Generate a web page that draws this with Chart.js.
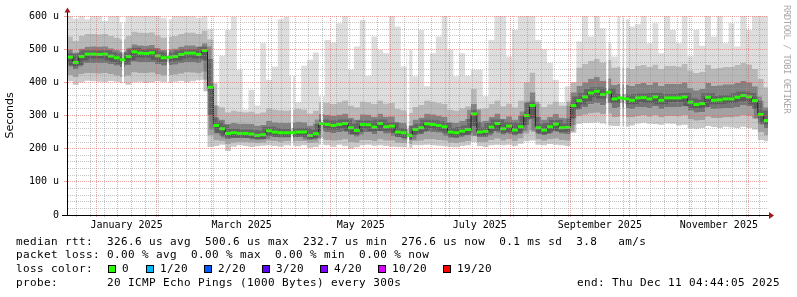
<!DOCTYPE html>
<html><head><meta charset="utf-8">
<script src="https://cdn.jsdelivr.net/npm/chart.js@4/dist/chart.umd.min.js"></script>
<style>
html,body{margin:0;padding:0;background:#fff;}
#wrap{position:relative;width:797px;height:297px;overflow:hidden;background:#fff;}
#c{position:absolute;left:0;top:0;}
.t{position:absolute;white-space:pre;font-family:'DejaVu Sans Mono',monospace;font-size:11px;letter-spacing:0.38px;color:#000;line-height:14px;}
.box{position:absolute;width:6px;height:6px;border:1px solid #000;top:265px;}
#wm{position:absolute;left:782px;top:5px;writing-mode:vertical-rl;font-family:'DejaVu Sans Mono',monospace;font-size:9px;letter-spacing:-0.5px;color:#aaa;white-space:pre;line-height:9px;}
</style></head><body>
<div id="wrap">
<canvas id="c" width="797" height="297"></canvas>
<div id="wm">RRDTOOL / TOBI OETIKER</div>
<div class="t" style="left:16px;top:235px">median rtt:  326.6 us avg  500.6 us max  232.7 us min  276.6 us now  0.1 ms sd  3.8   am/s</div>
<div class="t" style="left:16px;top:248px">packet loss: 0.00 % avg  0.00 % max  0.00 % min  0.00 % now</div>
<div class="t" id="lossline" style="left:16px;top:262px">loss color:</div>
<div class="t" style="left:16px;top:276px">probe:       20 ICMP Echo Pings (1000 Bytes) every 300s</div>
<div class="t" style="left:577px;top:276px">end: Thu Dec 11 04:44:05 2025</div>
</div>
<script>
// ---- time layout (days relative to 1 Jan 2025) ----
const START_DAY = -15;      // ~17 Dec 2024
const END_DAY = 344.2;      // 11 Dec 2025 04:44
const STEP_DAYS = 3;        // one consolidated column = 3 days
const GAP_W = 0.9;          // width of a missing-data gap (days)

// ---- series values (microseconds), one value per 3-day column ----
const medianRtt = [476,460,478,485,485,484,485,479,474,468,
 478,492,488,487,489,480,474,476,478,484,
 488,488,484,496,385,270,260,246,248,246,
 246,244,240,242,254,250,248,248,248,250,
 250,240,245,276,273,270,273,276,263,255,
 273,272,265,276,266,268,250,248,240,258,
 263,275,273,270,266,250,248,253,258,305,
 250,252,265,276,260,268,256,266,300,330,
 263,256,266,274,263,264,330,345,356,368,
 373,363,370,350,353,350,346,353,354,350,
 356,346,353,353,353,356,340,333,336,355,
 346,347,350,350,355,360,356,345,303,285,
 278];
const minRtt = [403,393,400,405,403,402,400,404,402,398,
 393,400,402,398,400,403,401,398,402,404,
 400,403,406,408,205,208,212,193,206,210,
 208,205,207,209,210,208,206,210,209,207,
 210,203,205,212,210,206,212,208,200,204,
 210,212,209,210,208,206,205,204,203,210,
 210,212,210,209,207,205,204,208,210,220,
 208,205,210,212,210,212,208,215,222,225,
 212,210,214,212,210,208,248,275,278,278,
 280,276,270,268,268,266,270,276,278,275,
 274,272,276,275,270,272,262,260,262,268,
 265,262,266,264,262,266,262,258,226,222,
 224];
const p10Rtt = [422,415,424,428,427,426,428,424,420,416,420,430,428,428,429,424,420,422,423,426,430,429,427,432,
 240,
 225,222,214,218,220,220,218,216,218,224,222,220,222,221,222,222,216,218,228,226,224,226,228,220,218,226,226,222,228,224,224,218,216,214,222,224,228,228,226,224,218,216,220,222,238,220,220,226,230,224,228,222,230,245,255,228,224,228,230,226,224,
 270,298,302,306,308,304,305,295,296,294,294,298,300,296,300,294,298,298,297,300,288,284,286,296,292,292,294,294,296,300,298,290,
 250,240,238];
const p25Rtt = [450,440,452,458,458,457,458,454,450,446,452,462,460,460,461,455,450,452,453,457,460,460,457,465,
 300,
 245,238,228,232,231,231,230,227,228,238,235,233,233,233,235,235,227,230,252,250,247,250,252,242,236,250,250,244,252,245,247,234,232,226,240,243,252,250,248,245,233,232,236,240,268,234,235,245,252,242,248,239,246,270,290,245,240,247,252,245,244,
 290,318,326,334,338,331,336,322,324,322,319,324,326,322,327,319,324,324,324,327,314,308,310,326,319,320,322,322,326,330,327,318,
 275,262,256];
const p75Rtt = [500,488,502,508,509,508,509,503,498,493,502,515,512,511,513,504,498,500,502,508,512,512,508,518,
 470,
 295,288,275,278,276,276,274,270,272,284,280,278,278,279,282,280,270,276,305,302,300,303,306,294,288,304,303,296,306,297,298,280,278,270,288,294,306,304,300,296,280,278,284,290,335,282,284,296,306,290,298,288,300,340,370,296,288,296,305,294,292,
 370,390,400,410,416,405,412,393,396,393,390,396,398,393,400,390,396,396,396,400,384,376,380,398,390,391,394,394,398,404,400,388,
 345,325,318];
const p90Rtt = [538,525,540,546,546,545,546,540,535,530,540,553,550,549,551,542,535,538,540,546,550,550,546,556,
 530,
 330,325,310,315,312,310,312,306,310,322,318,316,315,318,320,318,306,315,340,338,335,340,345,330,325,342,340,335,345,336,338,320,316,308,326,332,345,342,338,335,318,315,322,328,380,320,322,335,345,328,336,325,345,400,430,336,326,334,342,330,330,
 400,445,455,465,470,460,468,445,448,445,440,450,452,446,454,440,450,450,448,455,436,428,432,452,442,444,446,446,452,458,454,440,
 410,385,375];
const maxRtt = [600,592,600,590,600,600,585,600,600,580,600,600,600,600,600,600,595,590,600,600,600,600,595,600,
 560,
 330,480,558,598,438,318,378,330,518,408,448,590,598,420,340,450,468,490,358,528,520,578,600,438,508,588,420,538,498,488,600,568,448,498,418,558,388,488,538,600,498,418,488,420,438,438,358,528,600,600,478,558,600,600,600,528,500,458,408,340,388,
 400,523,600,538,600,563,518,478,600,590,568,575,600,518,578,488,600,558,518,600,478,558,510,600,538,600,518,578,508,600,558,600,
 600,600,568];
// days with missing data (white gaps)
const gapDays = [13.2, 36.3, 99.9, 115.3, 159.4, 261.4, 268.6, 270.4];

// ---- axis ticks ----
const monthStartDays = [0,31,59,90,120,151,181,212,243,273,304,334];
const firstSundayDay = -10;
const xLabelDays = [15.5,74.5,135.5,196.5,258,319];
const xLabels = ['January 2025','March 2025','May 2025','July 2025','September 2025','November 2025'];
const yLabelValues = [0,100,200,300,400,500,600];
const yLabels = ['0','100 u','200 u','300 u','400 u','500 u','600 u'];

// ---- loss colour legend ----
const lossLabels = ['0','1/20','2/20','3/20','4/20','10/20','19/20'];
const lossColors = ['#26ff00','#00b8ff','#0059ff','#5e00ff','#7e00ff','#dd00ff','#ff0000'];
const lossBoxX = [108,146,204,262,320,378,443];
const wrap = document.getElementById('wrap');
lossLabels.forEach((lab,i)=>{
  const b=document.createElement('div'); b.className='box';
  b.style.left=lossBoxX[i]+'px'; b.style.background=lossColors[i]; wrap.appendChild(b);
  const t=document.createElement('div'); t.className='t'; t.textContent=lab;
  t.style.left=(lossBoxX[i]+14)+'px'; t.style.top='262px'; wrap.appendChild(t);
});

const weekDays = [];
for (let d = firstSundayDay; d < END_DAY; d += 7) weekDays.push(d);
const xTickValues = [...new Set([...monthStartDays, ...weekDays, ...xLabelDays])]
  .filter(v => v > START_DAY && v < END_DAY).sort((a,b)=>a-b);

function withGaps(arr) {
  const pts = [];
  arr.forEach((v,i) => {
    const x0 = START_DAY + STEP_DAYS*i, x1 = x0 + STEP_DAYS;
    pts.push({x: x0, y: v});
    gapDays.filter(g => g >= x0 && g < x1).forEach(g => {
      pts.push({x: g, y: v}, {x: g, y: null}, {x: g + GAP_W, y: v});
    });
  });
  return pts;
}
const band = (label, data, target, color, extra) => Object.assign({
  label, data: withGaps(data), stepped: 'before', borderWidth: 0, borderColor: 'rgba(0,0,0,0)',
  pointRadius: 0, spanGaps: false, fill: target === null ? false : target, backgroundColor: color
}, extra || {});

const RED = 'rgba(225,90,90,0.55)', GRAY = 'rgba(150,150,150,0.55)', NONE = 'rgba(0,0,0,0)';
const xGridColor = c => monthStartDays.includes(c.tick.value) ? RED : (xLabelDays.includes(c.tick.value) && !weekDays.includes(c.tick.value) ? NONE : GRAY);

const axisArrows = {
  id: 'axisArrows',
  afterDraw(chart) {
    const {ctx, chartArea: a} = chart;
    ctx.save();
    ctx.strokeStyle = '#000'; ctx.lineWidth = 1;
    ctx.beginPath();
    ctx.moveTo(a.left - 5, Math.round(a.bottom) + 0.5); ctx.lineTo(a.right + 2, Math.round(a.bottom) + 0.5);
    ctx.moveTo(Math.round(a.left) + 0.5, a.bottom); ctx.lineTo(Math.round(a.left) + 0.5, a.top - 4);
    ctx.stroke();
    ctx.fillStyle = '#a01c1c';
    ctx.beginPath();
    ctx.moveTo(a.right + 1, a.bottom - 3); ctx.lineTo(a.right + 6, a.bottom + 0.5); ctx.lineTo(a.right + 1, a.bottom + 4);
    ctx.closePath(); ctx.fill();
    ctx.beginPath();
    ctx.moveTo(a.left - 2.5, a.top - 3.5); ctx.lineTo(a.left + 0.5, a.top - 8.5); ctx.lineTo(a.left + 3.5, a.top - 3.5);
    ctx.closePath(); ctx.fill();
    ctx.restore();
  }
};

new Chart(document.getElementById('c'), {
  type: 'line',
  data: { datasets: [
    { label: 'median', data: medianRtt.map((v,i)=>({x: START_DAY + STEP_DAYS*(i+0.5), y: v})),
      showLine: false, pointStyle: 'line', pointRadius: 3, pointBorderWidth: 3,
      pointBorderColor: '#26ff00', pointBackgroundColor: '#26ff00' },
    band('median line', medianRtt, null, NONE, {borderWidth: 1, borderColor: '#202020'}),
    band('median core', medianRtt, null, NONE, {borderWidth: 8, borderColor: 'rgba(30,30,30,0.28)'}),
    band('median band', medianRtt, 4, '#747474'),
    band('p25', p25Rtt, 5, '#a2a2a2'),
    band('p10', p10Rtt, 6, '#c9c9c9'),
    band('min', minRtt, null, NONE),
    band('p75', p75Rtt, 3, '#828282'),
    band('p90', p90Rtt, 7, '#b8b8b8'),
    band('max', maxRtt, 8, '#dddddd')
  ]},
  options: {
    responsive: false, animation: false, devicePixelRatio: 1, events: [],
    layout: { padding: { top: 16, left: 0, right: 29, bottom: 62 } },
    plugins: { legend: { display: false }, tooltip: { enabled: false } },
    scales: {
      x: {
        type: 'linear', min: START_DAY, max: END_DAY,
        afterBuildTicks: s => { s.ticks = xTickValues.map(v => ({value: v})); },
        afterFit: s => { s.height = 20; },
        grid: { z: 1, lineWidth: 1, tickLength: 2, color: xGridColor, tickColor: xGridColor },
        border: { display: true, z: 2, color: '#000', dash: [1,1] },
        ticks: { autoSkip: false, maxRotation: 0, minRotation: 0, padding: 2, color: '#000',
          font: { family: "'DejaVu Sans Mono', monospace", size: 10 },
          callback: v => { const k = xLabelDays.indexOf(v); return k >= 0 ? xLabels[k] : ''; } }
      },
      y: {
        type: 'linear', min: 0, max: 600,
        afterFit: s => { s.width = 67; },
        grid: { z: 1, lineWidth: 1, tickLength: 3,
          color: c => c.tick.value === 0 ? NONE : (c.tick.value % 100 === 0 ? RED : GRAY),
          tickColor: c => c.tick.value % 100 === 0 ? RED : NONE },
        border: { display: true, z: 2, color: '#000', dash: [1,1] },
        title: { display: true, text: 'Seconds', color: '#000', font: { family: "'DejaVu Sans', sans-serif", size: 11 }, padding: { top: 4, bottom: 0 } },
        ticks: { stepSize: 20, autoSkip: false, padding: 5, color: '#000',
          font: { family: "'DejaVu Sans Mono', monospace", size: 10 },
          callback: v => { const k = yLabelValues.indexOf(v); return k >= 0 ? yLabels[k] : ''; } }
      }
    }
  },
  plugins: [axisArrows]
});
</script>
</body></html>
